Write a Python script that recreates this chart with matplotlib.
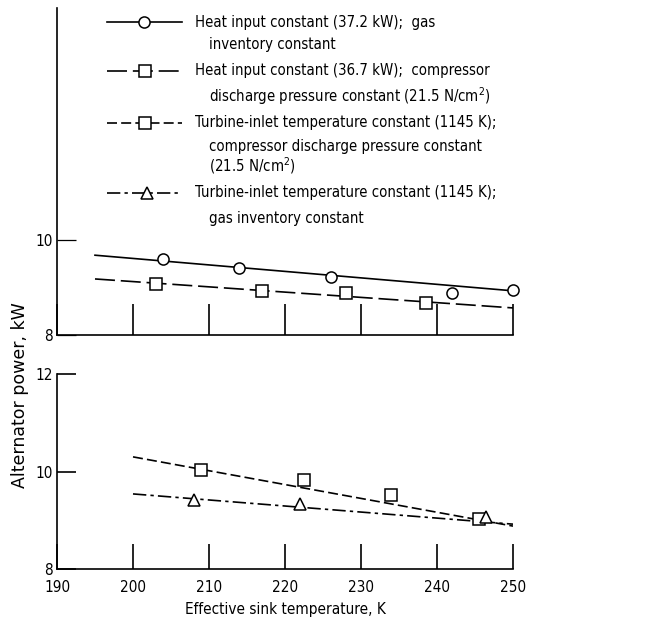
import matplotlib
matplotlib.use("Agg")
import matplotlib.pyplot as plt
from matplotlib import font_manager as fm

names = sorted({f.name for f in fm.fontManager.ttflist})
FONT = "Liberation Sans Narrow" if "Liberation Sans Narrow" in names else "DejaVu Sans"
plt.rcParams['font.family'] = [FONT, 'DejaVu Sans']
if FONT == "DejaVu Sans":
    plt.rcParams['font.stretch'] = 'condensed'

# ---- data ----
x_ticks = [190, 200, 210, 220, 230, 240, 250]
x_tick_labels = ["190", "200", "210", "220", "230", "240", "250"]

# Top panel
s1_x = [204, 214, 226, 242, 250]
s1_y = [9.60, 9.41, 9.22, 8.88, 8.95]
s1_fit_x = [195, 250]
s1_fit_y = [9.68, 8.93]

s2_x = [203, 217, 228, 238.5]
s2_y = [9.07, 8.93, 8.88, 8.67]
s2_fit_x = [195, 250]
s2_fit_y = [9.18, 8.57]

# Bottom panel
s3_x = [209, 222.5, 234, 245.5]
s3_y = [10.03, 9.83, 9.52, 9.03]
s3_fit_x = [200, 250]
s3_fit_y = [10.30, 8.88]

s4_x = [208, 222, 246.5]
s4_y = [9.42, 9.33, 9.07]
s4_fit_x = [200, 250]
s4_fit_y = [9.54, 8.92]

legend_labels = [
    ["Heat input constant (37.2 kW);  gas", "inventory constant"],
    ["Heat input constant (36.7 kW);  compressor", r"discharge pressure constant (21.5 N/cm$^{2}$)"],
    ["Turbine-inlet temperature constant (1145 K);", "compressor discharge pressure constant", r"(21.5 N/cm$^{2}$)"],
    ["Turbine-inlet temperature constant (1145 K);", "gas inventory constant"],
]

W, H = 668, 624
fig = plt.figure(figsize=(W / 100, H / 100), dpi=100)

LW = 1.2
ls2 = (0, (12, 3.5))
ls3 = (0, (6, 2.5))
ls4 = (0, (8, 2.5, 2, 2.5))
FS = 11
LFS = 10.7

def px(x0, y0, x1, y1):
    return [x0 / W, 1 - y1 / H, (x1 - x0) / W, (y1 - y0) / H]

ax1 = fig.add_axes(px(57, 8, 513, 335))
ax2 = fig.add_axes(px(57, 374, 513, 569))

for ax in (ax1, ax2):
    ax.set_xlim(190, 250)
    for s in ("top", "right"):
        ax.spines[s].set_visible(False)
    for s in ("left", "bottom"):
        ax.spines[s].set_linewidth(1.2)
    ax.set_xticks(x_ticks)

ax1.set_ylim(8, 8 + (335 - 8) / 47.5)
ax1.set_yticks([8, 10])
ax1.set_yticklabels(["8", "10"], fontsize=FS)
ax1.set_xticklabels([])
ax1.tick_params(axis="x", direction="in", length=22, width=1.2, labelbottom=False)
ax1.tick_params(axis="y", direction="in", length=14, width=0.9, pad=3)

ax2.set_ylim(8, 12)
ax2.set_yticks([8, 10, 12])
ax2.set_yticklabels(["8", "10", "12"], fontsize=FS)
ax2.set_xticklabels(x_tick_labels, fontsize=FS)
ax2.tick_params(axis="x", direction="in", length=18, width=1.2, pad=8)
ax2.tick_params(axis="y", direction="in", length=14, width=1.2, pad=3)
ax2.set_xlabel("Effective sink temperature, K", fontsize=FS, labelpad=5)

mk = dict(markerfacecolor="white", markeredgecolor="black", markeredgewidth=1.1, clip_on=False, zorder=3)

# series 1
ax1.plot(s1_fit_x, s1_fit_y, color="black", lw=LW, ls="-")
ax1.plot(s1_x, s1_y, ls="none", marker="o", markersize=8, **mk)
# series 2
ax1.plot(s2_fit_x, s2_fit_y, color="black", lw=LW, ls=ls2)
ax1.plot(s2_x, s2_y, ls="none", marker="s", markersize=8, **mk)
# series 3
ax2.plot(s3_fit_x, s3_fit_y, color="black", lw=LW, ls=ls3)
ax2.plot(s3_x, s3_y, ls="none", marker="s", markersize=8.5, **mk)
# series 4
ax2.plot(s4_fit_x, s4_fit_y, color="black", lw=LW, ls=ls4)
ax2.plot(s4_x, s4_y, ls="none", marker="^", markersize=8.5, **mk)

fig.text(20 / W, 1 - 395 / H, "Alternator power, kW", rotation=90,
         ha="center", va="center", fontsize=12.5, family=["DejaVu Sans"],
         fontstretch="normal")

# ---- manual legend in pixel coordinates ----
ov = fig.add_axes([0, 0, 1, 1])
ov.set_xlim(0, W)
ov.set_ylim(H, 0)
ov.axis("off")
ov.patch.set_alpha(0)

key_styles = [("-", "o", 144), (ls2, "s", 145), (ls3, "s", 145), (ls4, "^", 147)]
row_y = [[22, 45], [71, 96], [123, 146, 166], [193, 219]]
for (ls, m, mx), ys, labels in zip(key_styles, row_y, legend_labels):
    y0 = ys[0]
    ov.plot([107, 182], [y0, y0], color="black", lw=LW, ls=ls)
    ov.plot([mx], [y0], marker=m, markersize=8, ls="none", **mk)
    for i, (yy, t) in enumerate(zip(ys, labels)):
        ov.text(195 if i == 0 else 209, yy, t, fontsize=LFS, ha="left", va="center")

fig.savefig("out.png", dpi=100)
